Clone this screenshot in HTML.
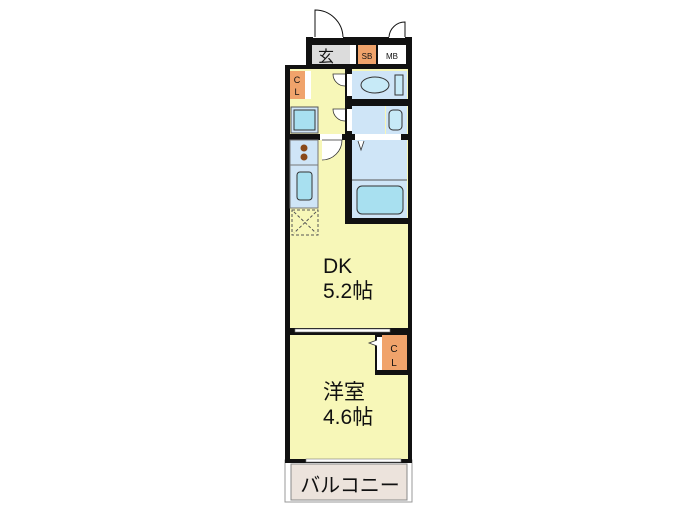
<!DOCTYPE html>
<html><head><meta charset="utf-8"><style>
html,body{margin:0;padding:0;background:#fff;width:700px;height:525px;overflow:hidden}
svg{position:absolute;left:0;top:0}
text{font-family:"Liberation Sans","Noto Sans CJK JP",sans-serif;fill:#111}
</style></head><body>
<svg width="700" height="525" viewBox="0 0 700 525">
<rect x="285" y="460" width="127" height="42" fill="#fff" stroke="#999" stroke-width="1"/>
<rect x="291" y="464" width="116" height="36" fill="#ece3dc" stroke="#888" stroke-width="1"/>
<text x="350" y="492" font-size="20" text-anchor="middle">バルコニー</text>
<rect x="285" y="65" width="127" height="398" fill="#111"/>
<rect x="306" y="37" width="106" height="30" fill="#111"/>
<rect x="312" y="45" width="38" height="19" fill="#dcdcdc"/>
<text x="318" y="62" font-size="16">玄</text>
<rect x="350" y="45" width="6" height="19" fill="#fff"/>
<rect x="358" y="45" width="18" height="19" fill="#f0a36b"/>
<text x="367" y="59" font-size="8" text-anchor="middle">SB</text>
<rect x="378" y="45" width="28" height="19" fill="#fff"/>
<text x="392" y="59" font-size="8" text-anchor="middle">MB</text>
<rect x="313" y="35" width="30" height="3" fill="#fff"/>
<path d="M315 37 V10 A28 28 0 0 1 343 37" fill="#fff" stroke="#111" stroke-width="1"/>
<rect x="389" y="35" width="16" height="3" fill="#fff"/>
<path d="M405 37 V22 A16 16 0 0 0 389 37" fill="#fff" stroke="#111" stroke-width="1"/>
<rect x="290" y="69" width="118" height="260" fill="#f7f7b8"/>
<rect x="290" y="335" width="118" height="124" fill="#f7f7b8"/>
<rect x="290" y="71" width="15" height="28" fill="#f0a36b"/>
<text x="297" y="83" font-size="9" text-anchor="middle">C</text>
<text x="297" y="95" font-size="9" text-anchor="middle">L</text>
<rect x="305" y="71" width="6" height="28" fill="#fff"/>
<rect x="345" y="69" width="7" height="67" fill="#111"/>
<rect x="345" y="99" width="67" height="7" fill="#111"/>
<rect x="352" y="71" width="55" height="28" fill="#cfe5f7"/>
<rect x="347" y="74" width="5" height="22" fill="#fff"/>
<path d="M345 74 H333 A12 12 0 0 0 345 86" fill="#fff" stroke="#333" stroke-width="0.8"/>
<ellipse cx="375" cy="85" rx="14" ry="8" fill="#c7eaf7" stroke="#333"/>
<rect x="395" y="75" width="8" height="20" fill="#c7eaf7" stroke="#333"/>
<rect x="291" y="107" width="27" height="26" fill="#cfe5f7" stroke="#555"/>
<rect x="294" y="110" width="21" height="20" fill="#a8e0f0" stroke="#333"/>
<rect x="352" y="106" width="33" height="28" fill="#cfe5f7"/>
<rect x="386" y="106" width="21" height="28" fill="#cfe5f7"/>
<rect x="389" y="110" width="13" height="20" rx="4" fill="#c7eaf7" stroke="#333"/>
<rect x="347" y="109" width="5" height="22" fill="#fff"/>
<path d="M345 109 H333 A12 12 0 0 0 345 121" fill="#fff" stroke="#333" stroke-width="0.8"/>
<rect x="285" y="134" width="127" height="6" fill="#111"/>
<rect x="320" y="134" width="22" height="6" fill="#fff"/>
<path d="M322 140 H342 A20 20 0 0 1 322 160" fill="#fff" stroke="#333" stroke-width="0.8"/>
<rect x="355" y="134" width="46" height="6" fill="#fff"/>
<rect x="345" y="140" width="7" height="84" fill="#111"/>
<rect x="345" y="218" width="67" height="6" fill="#111"/>
<rect x="352" y="140" width="55" height="78" fill="#cfe5f7"/>
<line x1="352" y1="180" x2="407" y2="180" stroke="#555"/>
<rect x="357" y="186" width="46" height="28" rx="5" fill="#a8e0f0" stroke="#333"/>
<path d="M358 141 L361 150 L364 141" fill="#fff" stroke="#333" stroke-width="0.8"/>
<rect x="290" y="140" width="28" height="68" fill="#cfe5f7" stroke="#777"/>
<line x1="290" y1="165" x2="318" y2="165" stroke="#777"/>
<circle cx="304" cy="148" r="3.5" fill="#8a4a1a"/>
<circle cx="304" cy="157" r="3.5" fill="#8a4a1a"/>
<rect x="297" y="172" width="15" height="28" rx="3" fill="#a8e0f0" stroke="#333"/>
<rect x="292" y="210" width="26" height="25" fill="none" stroke="#555" stroke-dasharray="3,2"/>
<path d="M294 212 L316 233 M316 212 L294 233" stroke="#555" stroke-dasharray="3,2"/>
<rect x="285" y="328" width="127" height="7" fill="#111"/>
<rect x="295" y="329" width="95" height="3" fill="#fff" stroke="#777" stroke-width="0.6"/>
<rect x="375" y="335" width="37" height="40" fill="#111"/>
<rect x="382" y="335" width="25" height="35" fill="#f0a36b"/>
<text x="394" y="352" font-size="10" text-anchor="middle">C</text>
<text x="394" y="366" font-size="10" text-anchor="middle">L</text>
<rect x="377" y="337" width="5" height="33" fill="#fff"/>
<path d="M377 340 L369 343 L377 346" fill="#fff" stroke="#333" stroke-width="0.8"/>
<rect x="306" y="459" width="95" height="3" fill="#fff" stroke="#777" stroke-width="0.6"/>
<text x="323" y="273" font-size="21">DK</text>
<text x="323" y="298" font-size="21">5.2帖</text>
<text x="323" y="399" font-size="21">洋室</text>
<text x="323" y="424" font-size="21">4.6帖</text>
</svg>
</body></html>
